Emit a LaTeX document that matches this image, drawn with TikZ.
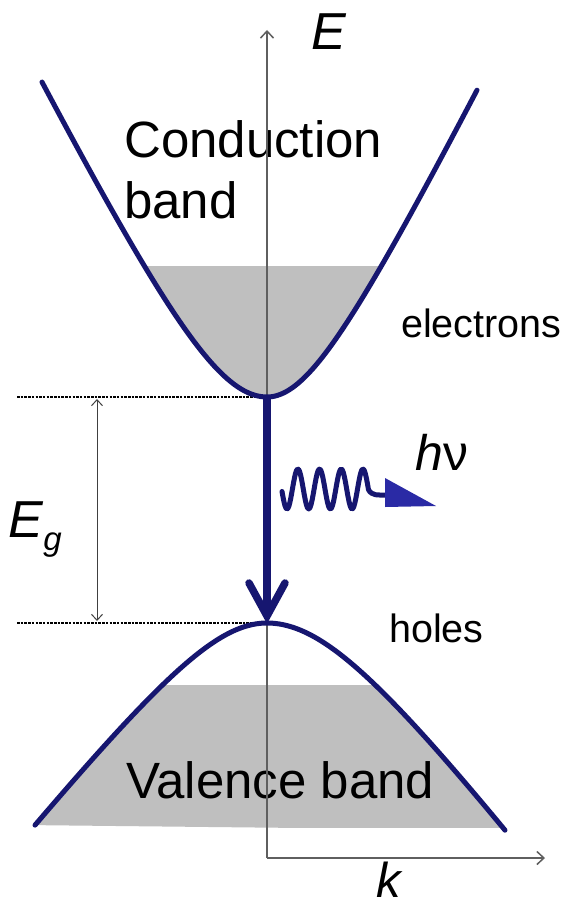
\documentclass[tikz,border=0pt]{standalone}
\usepackage{fontspec}
\setmainfont{Liberation Sans}
\usetikzlibrary{arrows.meta}
\definecolor{bandblue}{RGB}{22,22,112}
\definecolor{photonblue}{RGB}{42,42,165}
\definecolor{fillgray}{RGB}{191,191,191}
\definecolor{axisgray}{RGB}{95,95,95}
\begin{document}
\begin{tikzpicture}[x=1pt,y=-1pt,
  band/.style={draw=bandblue, line width=5pt, line cap=round},
  axisline/.style={draw=axisgray, line width=1.5pt, -{Straight Barb[length=7pt,width=13pt,line width=1.5pt]}},
  egarrow/.style={draw=black!75, line width=1pt, {Straight Barb[length=6pt,width=11pt,line width=1pt]}-{Straight Barb[length=6pt,width=11pt,line width=1pt]}},
  gapline/.style={draw=black, line width=1.2pt, dash pattern=on 2.5pt off 1.2pt},
  lbl/.style={inner sep=0pt, anchor=base west},
  bigtxt/.style={lbl, font=\fontsize{51}{60}\selectfont},
  smalltxt/.style={lbl, font=\fontsize{39.5}{46}\selectfont},
]
\useasboundingbox (0,0) rectangle (565,907);
\fill[white] (0,0) rectangle (565,907);

% key points
\coordinate (cbmin) at (267,397);
\coordinate (vbmax) at (267,623);
\coordinate (origin) at (267,858);
\coordinate (Etop) at (267,30);
\coordinate (kend) at (545,858);

% conduction band fill
\begin{scope}
\clip plot[domain=-225:0, samples=60, variable=\d] ({267+\d},{397-164*(sqrt(1+(\d/82)*(\d/82))-1)})
   -- plot[domain=0:210, samples=60, variable=\d] ({267+\d},{397-134*(sqrt(1+(\d/67)*(\d/67))-1)}) -- cycle;
\fill[fillgray] (0,266) rectangle (565,400);
\end{scope}

% valence band fill
\begin{scope}
\clip plot[domain=-232:0, samples=60, variable=\d] ({267+\d},{623+106*(sqrt(1+(\d/85)*(\d/85))-1)})
   -- plot[domain=0:238, samples=60, variable=\d] ({267+\d},{623+131*(sqrt(1+(\d/100)*(\d/100))-1)}) -- cycle;
\fill[fillgray] (0,685) rectangle (565,828);
\end{scope}

% texts
\node[bigtxt] (cond) at (124,157) {Conduction};
\node[bigtxt] (condb) at (124,218) {band};
\node[bigtxt] (val) at (126,798) {Valence band};
\node[smalltxt] (el) at (401,337) {electrons};
\node[smalltxt] (holes) at (389,642) {holes};
\node[lbl, font=\fontsize{52}{60}\selectfont\itshape] (Elab) at (311,50) {E};
\node[lbl, font=\fontsize{49}{60}\selectfont\itshape] (klab) at (376,897) {k};
\node[lbl, font=\fontsize{50}{60}\selectfont] (hnu) at (415,470) {\textit{h}ν};
\node[lbl, font=\fontsize{52}{60}\selectfont] (Eg) at (8,537) {\textit{E}\raisebox{-13pt}{\fontsize{33}{33}\selectfont\textit{g}}};

% axes
\draw[axisline] (origin) -- (Etop);
\draw[axisline] (origin) -- (kend);

% gap lines
\coordinate (gapA) at (17,397);
\coordinate (gapB) at (17,623);
\draw[gapline] (gapA) -- (cbmin);
\draw[gapline] (gapB) -- (vbmax);
\coordinate (egtop) at (97,399);
\coordinate (egbot) at (97,621);
\draw[egarrow] (egtop) -- (egbot);

% band curves
\draw[band] plot[domain=-225:0, samples=80, variable=\d] ({267+\d},{397-164*(sqrt(1+(\d/82)*(\d/82))-1)})
   -- plot[domain=0:210, samples=80, variable=\d] ({267+\d},{397-134*(sqrt(1+(\d/67)*(\d/67))-1)});
\draw[band] plot[domain=-232:0, samples=80, variable=\d] ({267+\d},{623+106*(sqrt(1+(\d/85)*(\d/85))-1)})
   -- plot[domain=0:238, samples=80, variable=\d] ({267+\d},{623+131*(sqrt(1+(\d/100)*(\d/100))-1)});

% transition arrow
\coordinate (tip) at (267,616);
\draw[bandblue, line width=7.5pt] (cbmin) -- ([yshift=3pt]tip);
\draw[bandblue, line width=7.5pt, line cap=round, line join=miter] ([shift={(-18,-33)}]tip) -- (tip) -- ([shift={(18,-33)}]tip);

% photon
\coordinate (wavestart) at (282,491);
\coordinate (wavetail) at (386,495);
\draw[bandblue, line width=5pt, line cap=round, line join=round]
  plot[domain=282:368.5, samples=90] (\x,{489+20*cos(16.59*(\x-287))})
  .. controls (372,496) and (378,495) .. (wavetail);
\fill[photonblue] (385,478) -- (385,507) -- (436,506) -- cycle;
\end{tikzpicture}
\end{document}
